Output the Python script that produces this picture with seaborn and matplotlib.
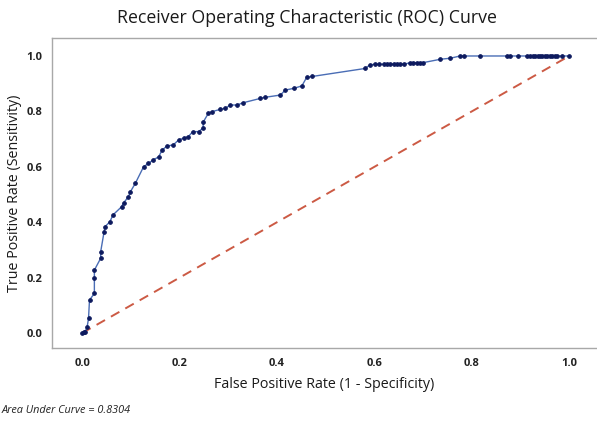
import matplotlib
matplotlib.use("Agg")
import matplotlib.pyplot as plt
import pandas as pd
import seaborn as sns

# ROC points
fpr = [0.0, 0.003, 0.006, 0.010, 0.013, 0.015, 0.025, 0.025, 0.025, 0.038,
       0.038, 0.045, 0.047, 0.057, 0.063, 0.081, 0.085, 0.095, 0.099, 0.109,
       0.126, 0.136, 0.146, 0.157, 0.164, 0.174, 0.187, 0.198, 0.208, 0.218,
       0.227, 0.239, 0.248, 0.249, 0.259, 0.266, 0.283, 0.294, 0.304, 0.318,
       0.330, 0.366, 0.376, 0.407, 0.417, 0.434, 0.451, 0.461, 0.472, 0.581,
       0.591, 0.602, 0.610, 0.619, 0.626, 0.633, 0.640, 0.646, 0.653, 0.660,
       0.674, 0.680, 0.687, 0.694, 0.700, 0.735, 0.756, 0.776, 0.783, 0.817,
       0.872, 0.878, 0.895, 0.914, 0.920, 0.925, 0.930, 0.935, 0.940, 0.945,
       0.950, 0.955, 0.960, 0.965, 0.970, 0.975, 0.985, 1.0]
tpr = [0.0, 0.003, 0.005, 0.020, 0.053, 0.119, 0.143, 0.197, 0.227, 0.270,
       0.294, 0.366, 0.384, 0.402, 0.426, 0.456, 0.470, 0.492, 0.510, 0.540,
       0.600, 0.612, 0.625, 0.636, 0.660, 0.675, 0.679, 0.697, 0.703, 0.709,
       0.727, 0.727, 0.739, 0.763, 0.793, 0.799, 0.807, 0.811, 0.823, 0.823,
       0.831, 0.847, 0.851, 0.859, 0.877, 0.883, 0.892, 0.923, 0.926, 0.955,
       0.968, 0.970, 0.970, 0.970, 0.970, 0.970, 0.970, 0.970, 0.970, 0.970,
       0.976, 0.976, 0.976, 0.976, 0.976, 0.988, 0.992, 1.0, 1.0, 1.0,
       1.0, 1.0, 1.0, 1.0, 1.0, 1.0, 1.0, 1.0, 1.0, 1.0,
       1.0, 1.0, 1.0, 1.0, 1.0, 1.0, 1.0, 1.0]
chance = [0.0, 1.0]
auc_text = "Area Under Curve = 0.8304"
ticks = [0.0, 0.2, 0.4, 0.6, 0.8, 1.0]

sns.set_style("white")
plt.rcParams["font.family"] = ["Open Sans", "DejaVu Sans"]

roc = pd.DataFrame({"fpr": fpr, "tpr": tpr})
diag = pd.DataFrame({"x": chance, "y": chance})

fig = plt.figure(figsize=(5.97, 4.22), dpi=100)
ax = fig.add_axes([0.0871, 0.1754, 0.9129, 0.7346])

sns.lineplot(data=diag, x="x", y="y", color="#cc5a44", linewidth=1.4,
             ax=ax)
ax.lines[-1].set_dashes([5, 3.5])
sns.lineplot(data=roc, x="fpr", y="tpr", sort=False, estimator=None,
             color="#4a6db5", linewidth=1.0, marker="o", markersize=2.6,
             markerfacecolor="#0d1a5e", markeredgecolor="#0d1a5e", ax=ax)

ax.set_xlim(-0.062, 1.057)
ax.set_ylim(-0.054, 1.065)
ax.set_xticks(ticks)
ax.set_yticks(ticks)
ax.set_xticklabels([f"{t:.1f}" for t in ticks])
ax.set_yticklabels([f"{t:.1f}" for t in ticks])
ax.tick_params(axis="both", length=3, width=0.8, color="#999999",
               labelsize=8, labelcolor="#222222", pad=4)
for lab in ax.get_xticklabels() + ax.get_yticklabels():
    lab.set_fontweight("bold")

for side in ["left", "bottom", "top"]:
    ax.spines[side].set_color("#a8a8a8")
    ax.spines[side].set_linewidth(1.0)
ax.spines["right"].set_visible(False)

ax.set_xlabel("False Positive Rate (1 - Specificity)", fontsize=10.3,
              color="#1a1a1a", labelpad=6)
ax.set_ylabel("True Positive Rate (Sensitivity)", fontsize=10.3,
              color="#1a1a1a", labelpad=3)
fig.text(0.514, 0.957, "Receiver Operating Characteristic (ROC) Curve",
         ha="center", va="center", fontsize=12.8, color="#1a1a1a")
fig.text(0.002, 0.028, auc_text, ha="left", va="center", fontsize=7.8,
         style="italic", color="#222222")

fig.savefig("out.png", dpi=100)
